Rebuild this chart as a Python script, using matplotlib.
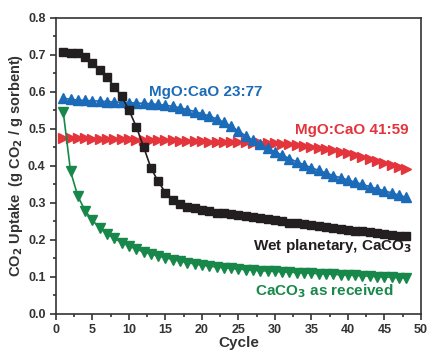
import matplotlib
matplotlib.use("Agg")
import matplotlib.pyplot as plt
from matplotlib.ticker import MultipleLocator

plt.rcParams['font.family'] = ['Liberation Sans', 'DejaVu Sans']
plt.rcParams['font.weight'] = 'bold'

cycles = list(range(1, 49))

wet_planetary = [0.709, 0.706, 0.704, 0.695, 0.677, 0.659, 0.640, 0.613, 0.588, 0.551,
                 0.506, 0.452, 0.395, 0.358, 0.328, 0.308, 0.297, 0.290, 0.285, 0.280,
                 0.277, 0.274, 0.272, 0.270, 0.268, 0.265, 0.262, 0.259, 0.256, 0.253,
                 0.250, 0.247, 0.245, 0.242, 0.240, 0.237, 0.235, 0.232, 0.230, 0.227,
                 0.225, 0.223, 0.221, 0.219, 0.217, 0.214, 0.212, 0.210]

mgo_23_77 = [0.583, 0.580, 0.578, 0.577, 0.576, 0.575, 0.574, 0.573, 0.572, 0.571,
             0.570, 0.569, 0.568, 0.566, 0.564, 0.561, 0.557, 0.552, 0.547, 0.541,
             0.535, 0.527, 0.518, 0.507, 0.494, 0.481, 0.469, 0.458, 0.448, 0.438,
             0.429, 0.420, 0.411, 0.403, 0.395, 0.388, 0.381, 0.374, 0.368, 0.362,
             0.356, 0.350, 0.344, 0.338, 0.333, 0.327, 0.321, 0.315]

mgo_41_59 = [0.476, 0.476, 0.475, 0.475, 0.474, 0.474, 0.473, 0.473, 0.472, 0.472,
             0.471, 0.471, 0.470, 0.470, 0.469, 0.469, 0.468, 0.468, 0.467, 0.467,
             0.466, 0.466, 0.465, 0.465, 0.464, 0.464, 0.463, 0.463, 0.462, 0.461,
             0.460, 0.459, 0.457, 0.455, 0.452, 0.449, 0.446, 0.442, 0.438, 0.434,
             0.429, 0.425, 0.420, 0.414, 0.409, 0.403, 0.397, 0.391]

caco3_received = [0.545, 0.385, 0.318, 0.279, 0.253, 0.232, 0.216, 0.204, 0.193, 0.184,
                  0.175, 0.168, 0.162, 0.157, 0.152, 0.147, 0.143, 0.139, 0.135, 0.132,
                  0.129, 0.127, 0.125, 0.123, 0.121, 0.120, 0.118, 0.117, 0.116, 0.115,
                  0.114, 0.113, 0.112, 0.111, 0.110, 0.109, 0.108, 0.107, 0.106, 0.105,
                  0.104, 0.103, 0.102, 0.101, 0.100, 0.099, 0.098, 0.097]

black = '#231f20'
blue = '#1b6bb8'
red = '#e4343c'
green = '#17884a'

fig = plt.figure(figsize=(4.29, 3.58), dpi=100)
ax = fig.add_axes([0.1305, 0.123, 0.8505, 0.827])

ax.plot(cycles, mgo_41_59, color=red, marker='>', ms=6.8, lw=1.2, mec=red)
ax.plot(cycles, mgo_23_77, color=blue, marker='^', ms=6.8, lw=1.2, mec=blue)
ax.plot(cycles, wet_planetary, color=black, marker='s', ms=5.2, lw=1.2, mec=black)
ax.plot(cycles, caco3_received, color=green, marker='v', ms=6.8, lw=1.2, mec=green)

ax.text(20.5, 0.60, 'MgO:CaO 23:77', color=blue, fontsize=11, fontweight='bold', ha='center', va='center')
ax.text(40.5, 0.497, 'MgO:CaO 41:59', color=red, fontsize=11, fontweight='bold', ha='center', va='center')
ax.text(48.8, 0.184, 'Wet planetary, CaCO$_\\mathbf{3}$', color=black, fontsize=11, fontweight='bold', ha='right', va='center')
ax.text(36.8, 0.062, 'CaCO$_\\mathbf{3}$ as received', color=green, fontsize=11, fontweight='bold', ha='center', va='center')

ax.set_xlim(0, 50)
ax.set_ylim(0, 0.8)
ax.xaxis.set_major_locator(MultipleLocator(5))
ax.xaxis.set_minor_locator(MultipleLocator(2.5))
ax.yaxis.set_major_locator(MultipleLocator(0.1))
ax.yaxis.set_minor_locator(MultipleLocator(0.05))
ax.yaxis.set_major_formatter(plt.FormatStrFormatter('%.1f'))
ax.tick_params(which='both', direction='out', width=1.2, labelsize=9, colors='#333333')
ax.tick_params(which='major', length=4)
ax.tick_params(which='minor', length=2.5)
for s in ax.spines.values():
    s.set_linewidth(1.2)
    s.set_color('#333333')

ax.set_xlabel('Cycle', fontsize=11, fontweight='bold', labelpad=0, color='#333333')
ax.set_ylabel('CO$_\\mathbf{2}$ Uptake  (g CO$_\\mathbf{2}$ / g sorbent)', fontsize=10.5,
              fontweight='bold', labelpad=2, color='#333333')

fig.savefig('out.png', dpi=100)
